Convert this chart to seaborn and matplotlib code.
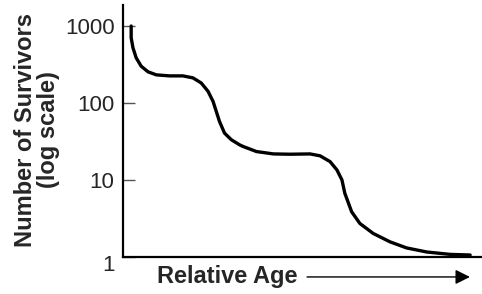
import matplotlib
matplotlib.use("Agg")
import matplotlib.pyplot as plt
import matplotlib.transforms as mtransforms
import seaborn as sns
import pandas as pd

# ---------------- DATA ----------------
# relative age (0-100 across the axis) and survivors
age = [2.3, 2.3, 2.8, 3.7, 5.1, 7.0, 9.3, 13.0, 16.7, 19.5, 21.8, 23.7,
       25.1, 26.0, 26.9, 28.3, 30.2, 32.5, 33.5, 37.2, 41.9, 46.5, 52.1,
       54.9, 57.7, 59.6, 61.0, 61.8, 62.5, 63.7, 66.0, 69.7, 74.4, 79.0,
       84.6, 91.1, 96.7]
survivors = [1000, 704, 521, 386, 300, 254, 232, 225, 225, 212, 182, 142,
             105, 77.6, 57.5, 40.6, 33.3, 28.6, 27.2, 23.4, 21.8, 21.6, 21.8,
             20.6, 17.3, 13.5, 10, 6.71, 5.48, 3.86, 2.72, 2.02, 1.57, 1.31,
             1.16, 1.08, 1.06]
ytick_vals = [1, 10, 100, 1000]
ytick_labels = ["1", "10", "100", "1000"]

df = pd.DataFrame({"age": age, "survivors": survivors})

# ---------------- STYLE ----------------
sns.set_style("ticks")
plt.rcParams['font.family'] = ['Liberation Sans', 'DejaVu Sans']

fig = plt.figure(figsize=(4.82, 2.94), dpi=100)
ax = fig.add_axes([0.255, 0.126, 0.745, 0.857])

sns.lineplot(data=df, x="age", y="survivors", ax=ax, color="black",
             linewidth=2.4, sort=False, estimator=None)
ax.lines[0].set_solid_joinstyle("round")
ax.set_yscale("log")
ax.set_ylim(1, 1875)
ax.set_xlim(0, 100)

ax.set_yticks(ytick_vals)
ax.set_yticklabels(ytick_labels)
ax.minorticks_off()
ax.set_xticks([])
ax.tick_params(axis="y", direction="in", length=8.5, width=1, color="#555555",
               labelsize=16, pad=6)

# the "1" label sits a little below the axis line in the original
lab1 = ax.get_yticklabels()[0]
lab1.set_transform(lab1.get_transform() +
                   mtransforms.ScaledTranslation(0, -4 / 72, fig.dpi_scale_trans))

for s in ["top", "right"]:
    ax.spines[s].set_visible(False)
for s in ["left", "bottom"]:
    ax.spines[s].set_linewidth(1.6)
    ax.spines[s].set_color("black")

ax.set_ylabel("Number of Survivors\n(log scale)", fontsize=17,
              fontweight="bold", linespacing=1.0)
ax.yaxis.set_label_coords(-0.175, 0.504)
ax.set_xlabel("")

fig.text(0.471, 0.058, "Relative Age", fontsize=17, fontweight="bold",
         ha="center", va="center")
ax.annotate("", xy=(0.975, 0.058), xytext=(0.637, 0.058),
            xycoords="figure fraction", textcoords="figure fraction",
            arrowprops=dict(arrowstyle="-|>", mutation_scale=22, lw=1,
                            color="black", shrinkA=0, shrinkB=0))

fig.savefig("out.png", dpi=100)
